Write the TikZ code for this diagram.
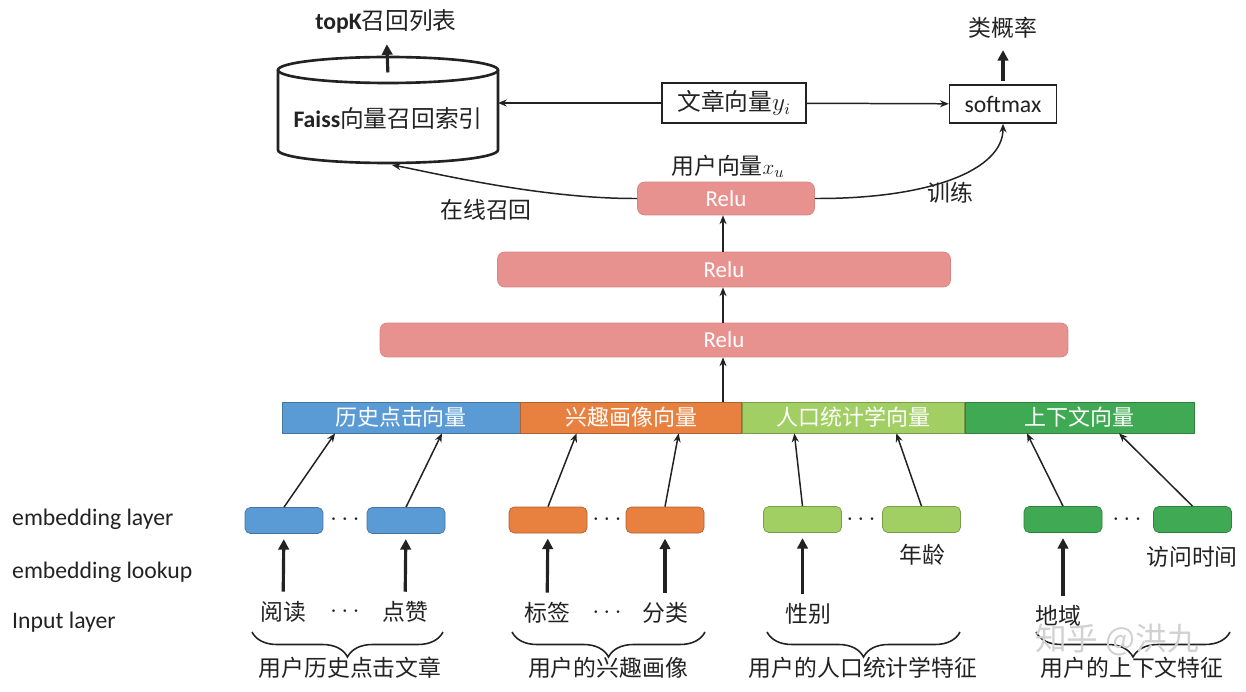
\documentclass[tikz,border=0pt]{standalone}
\usepackage{fontspec}
\setmainfont{Carlito}
\newfontfamily\cjk{Noto Sans CJK SC}
\usetikzlibrary{positioning, arrows.meta, decorations.pathreplacing}
\definecolor{relupink}{HTML}{E8928F}
\definecolor{histblue}{HTML}{5B9BD5}
\definecolor{intorange}{HTML}{E8803F}
\definecolor{demogreen}{HTML}{A2CF63}
\definecolor{ctxgreen}{HTML}{3FAA53}
\definecolor{inkgray}{HTML}{222222}

\tikzset{
  cn/.style={font=\fontsize{13}{16}\selectfont\cjk, text=inkgray},
  en/.style={font=\fontsize{13.5}{16}\selectfont, text=inkgray},
  plainbox/.style={draw=inkgray, line width=0.8pt, fill=white, inner sep=0pt},
  relubox/.style={fill=relupink, draw=relupink!92!black, rounded corners=4pt, text=white,
                  inner sep=0pt, font=\fontsize{13}{16}\selectfont},
  barseg/.style={fill=#1, draw=#1!75!black, text=white, minimum height=0.62cm, inner sep=0pt,
                 font=\fontsize{12.5}{15}\selectfont\cjk},
  embbox/.style={fill=#1, draw=#1!75!black, rounded corners=3pt, minimum width=1.56cm,
                 minimum height=0.52cm, inner sep=0pt},
  thinarrow/.style={-{Stealth[length=5pt, width=4pt]}, line width=0.85pt, draw=inkgray},
  thickarrow/.style={-{Triangle[length=6pt, width=6pt]}, line width=1.8pt, draw=inkgray,
                     shorten >=3pt, shorten <=2pt},
  groupbrace/.style={decorate, decoration={brace, mirror, amplitude=0.5cm}, line width=0.9pt, draw=inkgray}
}

\begin{document}
\begin{tikzpicture}[x=0.02cm, y=-0.02cm]
  \useasboundingbox (0,0) rectangle (1246,692);

  % recall index and output
  \draw[line width=1.5pt, draw=inkgray] (278,70) -- (278,150)
    arc[start angle=180, end angle=360, x radius=2.2cm, y radius=0.26cm] -- (498,70);
  \draw[line width=1.5pt, draw=inkgray] (388,70) ellipse [x radius=2.2cm, y radius=0.26cm];
  \node[en] (faiss) at (388,118) {\textbf{Faiss}{\cjk 向量召回索引}};
  \coordinate (faisstop) at (388,76);
  \coordinate (faissright) at (498,103);
  \coordinate (faissbot) at (392,165);
  \node[en] (topk) at (386,21) {\textbf{topK}{\cjk 召回列表}};
  \draw[thickarrow] (faisstop) -- (topk);

  \node[plainbox, en, minimum width=2.88cm, minimum height=0.8cm] (artvec) at (734,103) {{\cjk 文章向量}$y_i$};
  \node[plainbox, en, minimum width=2.14cm, minimum height=0.76cm] (softmax) at (1003,104) {softmax};
  \node[cn] (classprob) at (1003,28) {类概率};
  \draw[thickarrow] (softmax) -- (classprob);
  \draw[thinarrow] (artvec) -- (faissright);
  \draw[thinarrow] (artvec) -- (softmax);

  % relu tower
  \node[relubox, minimum width=3.54cm, minimum height=0.66cm] (relu3) at (726,198.5) {Relu};
  \node[relubox, minimum width=9.06cm, minimum height=0.7cm] (relu2) at (724,269.5) {Relu};
  \node[relubox, minimum width=13.76cm, minimum height=0.68cm] (relu1) at (724,340) {Relu};
  \node[cn] (uservec) at (728,166) {用户向量$x_u$};
  \draw[thinarrow] (relu1.north -| 723,0) -- (relu2.south -| 723,0);
  \draw[thinarrow] (relu2.north -| 723,0) -- (relu3.south -| 723,0);
  \draw[thinarrow] (relu3.west) .. controls (540,199) and (430,172) .. (faissbot);
  \draw[thinarrow] (relu3.east) .. controls (930,199) and (1003,170) .. (softmax.south);
  \node[cn] (online) at (486,210) {在线召回};
  \node[cn] (train) at (950,193) {训练};

  % concatenated vectors
  \node[barseg=histblue, minimum width=4.76cm] (hist) at (401,417.5) {历史点击向量};
  \node[barseg=intorange, minimum width=4.42cm, right=0pt of hist] (intr) {兴趣画像向量};
  \node[barseg=demogreen, minimum width=4.44cm, right=0pt of intr] (demo) {人口统计学向量};
  \node[barseg=ctxgreen, minimum width=4.58cm, right=0pt of demo] (ctx) {上下文向量};
  \draw[thinarrow] (intr.north -| 723,0) -- (relu1.south -| 723,0);

  % embedding layer
  \node[embbox=histblue] (e11) at (284,520.5) {};
  \node[embbox=histblue] (e12) at (406,520.5) {};
  \node[embbox=intorange] (e21) at (548,520) {};
  \node[embbox=intorange] (e22) at (665,520) {};
  \node[embbox=demogreen] (e31) at (802.5,519.5) {};
  \node[embbox=demogreen] (e32) at (921.5,519.5) {};
  \node[embbox=ctxgreen] (e41) at (1063,519.5) {};
  \node[embbox=ctxgreen] (e42) at (1192.5,519.5) {};
  \node[en] (dots1) at (345,520) {$\cdots$};
  \node[en] (dots2) at (607,520) {$\cdots$};
  \node[en] (dots3) at (861,520) {$\cdots$};
  \node[en] (dots4) at (1127,520) {$\cdots$};

  \draw[thinarrow] (e11.north) -- ([xshift=-1.32cm]hist.south);
  \draw[thinarrow] (e12.north) -- ([xshift=0.82cm]hist.south);
  \draw[thinarrow] (e21.north) -- ([xshift=-1.09cm]intr.south);
  \draw[thinarrow] (e22.north) -- ([xshift=0.95cm]intr.south);
  \draw[thinarrow] (e31.north) -- ([xshift=-1.18cm]demo.south);
  \draw[thinarrow] (e32.north) -- ([xshift=0.86cm]demo.south);
  \draw[thinarrow] (e41.north) -- ([xshift=-1.05cm]ctx.south);
  \draw[thinarrow] (e42.north) -- ([xshift=0.79cm]ctx.south);

  % inputs
  \node[cn] (in11) at (283,612) {阅读};
  \node[en] (indots1) at (345,612) {$\cdots$};
  \node[cn] (in12) at (405,612) {点赞};
  \node[cn] (in21) at (547,613) {标签};
  \node[en] (indots2) at (607,613) {$\cdots$};
  \node[cn] (in22) at (665,613) {分类};
  \node[cn] (in31) at (808,614) {性别};
  \node[cn] (in32) at (922,555) {年龄};
  \node[cn] (in41) at (1058,616) {地域};
  \node[cn] (in42) at (1192,557) {访问时间};
  \draw[thickarrow] (in11) -- (e11);
  \draw[thickarrow] (in12) -- (e12);
  \draw[thickarrow] (in21) -- (e21);
  \draw[thickarrow] (in22) -- (e22);
  \draw[thickarrow] (e31 |- in31.north) -- (e31.south);
  \draw[thickarrow] (e41 |- in41.north) -- (e41.south);

  % feature groups
  \draw[groupbrace] (252,632) -- (443,632);
  \draw[groupbrace] (512,632) -- (705,632);
  \draw[groupbrace] (767,632) -- (960,632);
  \draw[groupbrace] (1036,632) -- (1230,632);
  \node[cn] (grp1) at (350,668) {用户历史点击文章};
  \node[cn] (grp2) at (608,668) {用户的兴趣画像};
  \node[cn] (grp3) at (863,668) {用户的人口统计学特征};
  \node[cn] (grp4) at (1132,668) {用户的上下文特征};

  % layer names
  \node[en, anchor=west] (lyr1) at (6,519) {embedding layer};
  \node[en, anchor=west] (lyr2) at (6,572) {embedding lookup};
  \node[en, anchor=west] (lyr3) at (6,622) {Input layer};

  \node[font=\fontsize{18}{20}\selectfont\cjk, text=black!18] (mark) at (1117,640) {知乎 @洪九};
\end{tikzpicture}
\end{document}
